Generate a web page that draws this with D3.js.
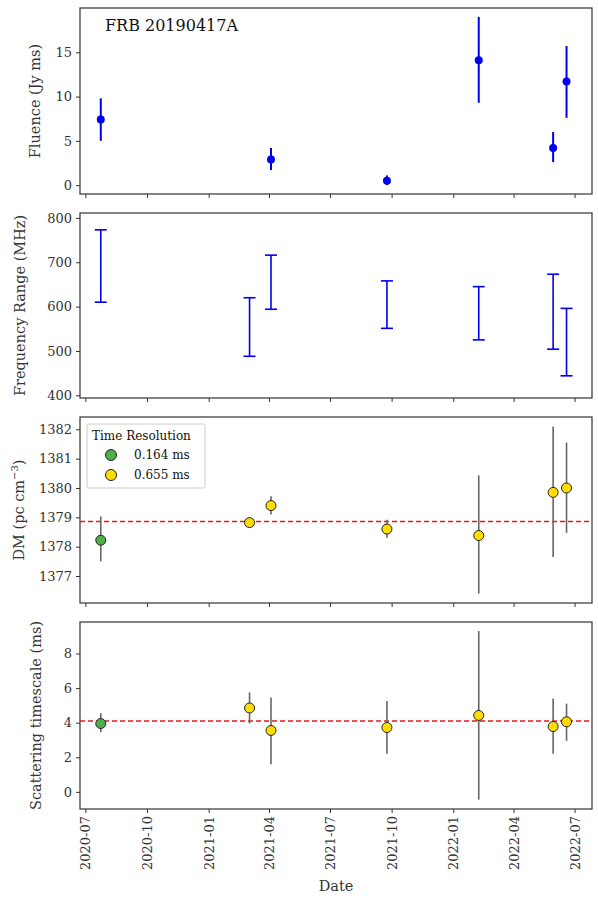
<!DOCTYPE html>
<html><head><meta charset="utf-8">
<script src="https://cdn.jsdelivr.net/npm/d3@7"></script>
<style>body{margin:0;background:#fff}text{font-family:"DejaVu Serif",serif;fill:#333}</style>
</head><body><svg id="c" width="598" height="902"></svg>
<script>
const dates = ["2020-07-24","2021-03-03","2021-04-04","2021-09-24","2022-02-08","2022-05-30","2022-06-19"];
const fluence = [7.4,null,2.9,0.5,14.1,4.2,11.7];
const fluLo = [5.0,null,1.7,0.0,9.3,2.6,7.6];
const fluHi = [9.8,null,4.2,1.1,19.0,6.0,15.7];
const freqLo = [610,488,594,551,525,504,444];
const freqHi = [773,620,716,658,645,673,596];
const dm = [1378.22,1378.82,1379.4,1378.6,1378.38,1379.85,1380.0];
const dmLo = [1377.5,1378.75,1379.1,1378.3,1376.4,1377.65,1378.47];
const dmHi = [1379.03,1378.9,1379.72,1378.92,1380.43,1382.1,1381.55];
const dmMean = 1378.86;
const scat = [3.95,4.85,3.55,3.72,4.42,3.78,4.05];
const scatLo = [3.45,3.95,1.6,2.2,-0.45,2.2,2.95];
const scatHi = [4.55,5.75,5.45,5.25,9.3,5.4,5.1];
const scatMean = 4.1;
const resClass = [0,1,1,1,1,1,1];
const resLabels = ["0.164 ms","0.655 ms"];
const resColors = ["#4daf4a","#ffdd00"];
const xTicks = ["2020-07","2020-10","2021-01","2021-04","2021-07","2021-10","2022-01","2022-04","2022-07"];

const svg = d3.select("#c");
const L=80,R=592;
const parse=d3.utcParse("%Y-%m-%d"), pm=d3.utcParse("%Y-%m");
const x=d3.scaleUtc().domain([parse("2020-06-23"),parse("2022-07-27")]).range([L,R]);
const panels=[
 {top:8,bot:194,dom:[-1,20],ticks:[0,5,10,15],label:"Fluence (Jy ms)"},
 {top:213,bot:398,dom:[394,811],ticks:[400,500,600,700,800],label:"Frequency Range (MHz)"},
 {top:417,bot:603,dom:[1376.08,1382.42],ticks:[1377,1378,1379,1380,1381,1382],label:"DM"},
 {top:622,bot:809,dom:[-0.99,9.82],ticks:[0,2,4,6,8],label:"Scattering timescale (ms)"}
];
const ys=panels.map((p,i)=>{
 const y=d3.scaleLinear().domain(p.dom).range([p.bot,p.top]);
 const g=svg.append("g");
 g.append("g").attr("transform",`translate(${L},0)`).call(d3.axisLeft(y).tickValues(p.ticks).tickFormat(d3.format("d")).tickSize(4).tickPadding(4))
  .call(a=>{a.select(".domain").remove();a.selectAll("text").style("font-size","13px");a.selectAll("line").attr("stroke","#333");});
 const xa=g.append("g").attr("transform",`translate(0,${p.bot})`).call(d3.axisBottom(x).tickValues(xTicks.map(t=>pm(t))).tickSize(4).tickFormat(i==3?d3.utcFormat("%Y-%m"):""));
 xa.select(".domain").remove(); xa.selectAll("line").attr("stroke","#333");
 if(i==3) xa.selectAll("text").style("font-size","13px").attr("transform","rotate(-90)").attr("text-anchor","end").attr("dx","-7px").attr("dy","0.35em").attr("x",0).attr("y",0);
 g.append("rect").attr("x",L).attr("y",p.top).attr("width",R-L).attr("height",p.bot-p.top).attr("fill","none").attr("stroke","#333").attr("stroke-width",1.2);
 const cy=(p.top+p.bot)/2;
 if(i==2){
  const t=g.append("text").attr("transform",`translate(24,${cy}) rotate(-90)`).attr("text-anchor","middle").style("font-size","14.5px");
  t.append("tspan").text("DM (pc cm");
  t.append("tspan").text("−3").attr("dy","-6").style("font-size","10px");
  t.append("tspan").text(")").attr("dy","6");
 } else g.append("text").attr("transform",`translate(${i==1?25:i==3?41:40},${cy}) rotate(-90)`).attr("text-anchor","middle").style("font-size","14.5px").text(p.label);
 return y;
});
const X=dates.map(d=>x(parse(d)));
dates.forEach((d,i)=>{ if(fluence[i]==null)return;
 svg.append("line").attr("x1",X[i]).attr("x2",X[i]).attr("y1",ys[0](fluLo[i])).attr("y2",ys[0](fluHi[i])).attr("stroke","#0000ee").attr("stroke-width",2);
 svg.append("circle").attr("cx",X[i]).attr("cy",ys[0](fluence[i])).attr("r",4).attr("fill","#0000ee");
});
svg.append("text").attr("x",105).attr("y",31).style("font-size","16px").style("fill","#111").text("FRB 20190417A");
dates.forEach((d,i)=>{
 const g=svg.append("g").attr("stroke","#0000ee").attr("stroke-width",1.6);
 g.append("line").attr("x1",X[i]).attr("x2",X[i]).attr("y1",ys[1](freqLo[i])).attr("y2",ys[1](freqHi[i]));
 [freqLo[i],freqHi[i]].forEach(v=>g.append("line").attr("x1",X[i]-6).attr("x2",X[i]+6).attr("y1",ys[1](v)).attr("y2",ys[1](v)));
});
[[dm,dmLo,dmHi,dmMean,2],[scat,scatLo,scatHi,scatMean,3]].forEach(([v,lo,hi,m,k])=>{
 const y=ys[k];
 svg.append("line").attr("x1",L).attr("x2",R).attr("y1",y(m)).attr("y2",y(m)).attr("stroke","#e31a1c").attr("stroke-width",1.4).attr("stroke-dasharray","5,3");
 v.forEach((d,i)=>{
  svg.append("line").attr("x1",X[i]).attr("x2",X[i]).attr("y1",y(lo[i])).attr("y2",y(hi[i])).attr("stroke","#666").attr("stroke-width",1.6);
  svg.append("circle").attr("cx",X[i]).attr("cy",y(d)).attr("r",5).attr("fill",resColors[resClass[i]]).attr("stroke","#222").attr("stroke-width",1);
 });
});
const lg=svg.append("g");
lg.append("rect").attr("x",87).attr("y",424).attr("width",118).attr("height",64).attr("fill","#fff").attr("stroke","#ccc").attr("rx",2);
lg.append("text").attr("x",92).attr("y",440).style("font-size","12px").style("fill","#111").text("Time Resolution");
resLabels.forEach((l,i)=>{
 lg.append("circle").attr("cx",111).attr("cy",455+i*20).attr("r",5.5).attr("fill",resColors[i]).attr("stroke","#222");
 lg.append("text").attr("x",134).attr("y",459+i*20).style("font-size","12px").style("fill","#111").text(l);
});
svg.append("text").attr("x",(L+R)/2).attr("y",891).attr("text-anchor","middle").style("font-size","14.5px").text("Date");
</script></body></html>
